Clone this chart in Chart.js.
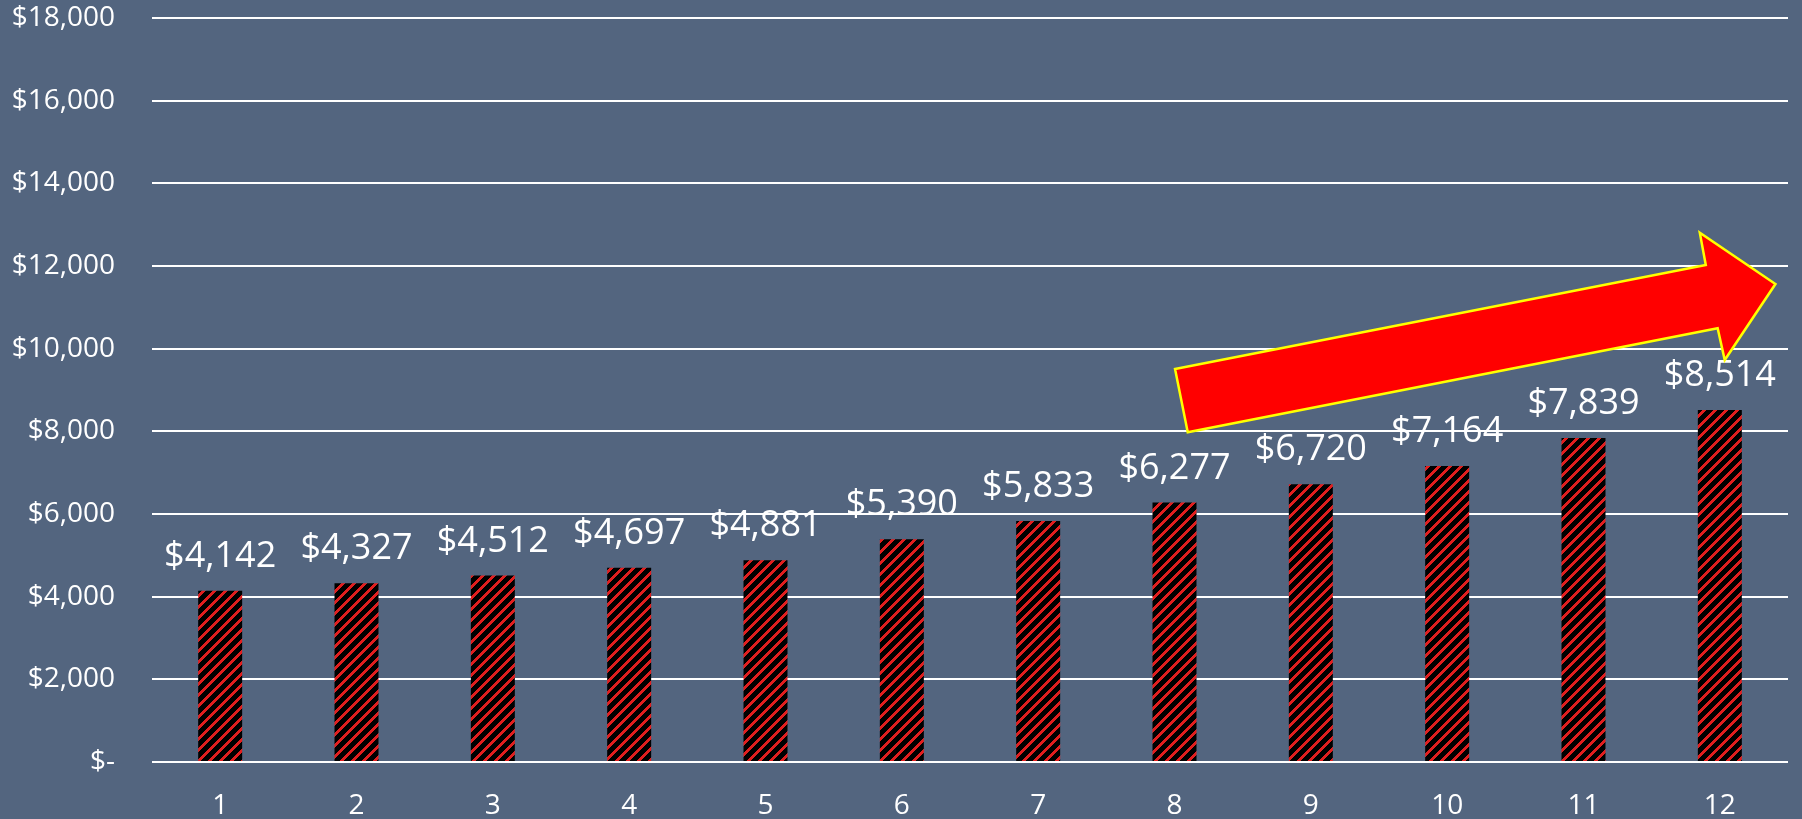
<!DOCTYPE html>
<html>
<head>
<meta charset="utf-8">
<script src="https://cdn.jsdelivr.net/npm/chart.js@4.4.0/dist/chart.umd.min.js"></script>
<style>
    html, body { margin: 0; padding: 0; background: #53657f; }
    canvas { display: block; }
</style>
</head>
<body>
<canvas id="chart" width="1802" height="819"></canvas>
<script>
// Données du graphique
const categories = ['1', '2', '3', '4', '5', '6', '7', '8', '9', '10', '11', '12'];
const amounts = [4142, 4327, 4512, 4697, 4881, 5390, 5833, 6277, 6720, 7164, 7839, 8514];
const yTickLabels = ['$-', '$2,000', '$4,000', '$6,000', '$8,000', '$10,000', '$12,000', '$14,000', '$16,000', '$18,000'];

// Flèche de tendance, en unités du graphique [index catégorie, valeur]
const arrowPoints = [
    [7.004, 9508],   // queue, haut
    [10.897, 12023], // corps haut, base de la pointe
    [10.853, 12805], // pointe, coin haut
    [11.408, 11564], // extrémité
    [11.036, 9725],  // pointe, coin bas
    [10.984, 10493], // corps bas, base de la pointe
    [7.097, 7976]    // queue, bas
];

const BG = '#53657f';
const FONT = '"Open Sans", "Noto Sans", sans-serif';

// Motif hachuré rouge / noir (diagonale montante)
function makeStripes() {
    const n = 11;
    const c = document.createElement('canvas');
    c.width = n;
    c.height = n;
    const g = c.getContext('2d');
    g.fillStyle = '#000000';
    g.fillRect(0, 0, n, n);
    g.fillStyle = '#e01e1e';
    for (let x = 0; x < n; x++) {
        for (let y = 0; y < n; y++) {
            if ((x + y) % n < 4) g.fillRect(x, y, 1, 1);
        }
    }
    return document.getElementById('chart').getContext('2d').createPattern(c, 'repeat');
}

const formatMoney = v => '$' + v.toLocaleString('en-US');

const backgroundPlugin = {
    id: 'bg',
    beforeDraw(chart) {
        const ctx = chart.ctx;
        ctx.save();
        ctx.fillStyle = BG;
        ctx.fillRect(0, 0, chart.width, chart.height);
        ctx.restore();
    }
};

// Étiquettes de valeur au-dessus des barres
const valueLabels = {
    id: 'valueLabels',
    afterDatasetsDraw(chart) {
        const ctx = chart.ctx;
        const meta = chart.getDatasetMeta(0);
        ctx.save();
        ctx.fillStyle = '#ffffff';
        ctx.font = '36px ' + FONT;
        ctx.textAlign = 'center';
        ctx.textBaseline = 'alphabetic';
        meta.data.forEach((bar, i) => {
            ctx.fillText(formatMoney(amounts[i]), bar.x, bar.y - 24);
        });
        ctx.restore();
    }
};

// Grosse flèche rouge
const trendArrow = {
    id: 'trendArrow',
    afterDraw(chart) {
        const x = chart.scales.x;
        const y = chart.scales.y;
        const ctx = chart.ctx;
        ctx.save();
        ctx.beginPath();
        arrowPoints.forEach((p, i) => {
            const px = x.getPixelForValue(p[0]);
            const py = y.getPixelForValue(p[1]);
            if (i === 0) ctx.moveTo(px, py);
            else ctx.lineTo(px, py);
        });
        ctx.closePath();
        ctx.fillStyle = '#ff0000';
        ctx.fill();
        ctx.lineWidth = 2.5;
        ctx.lineJoin = 'miter';
        ctx.strokeStyle = '#ffff00';
        ctx.stroke();
        ctx.restore();
    }
};

new Chart(document.getElementById('chart'), {
    type: 'bar',
    data: {
        labels: categories,
        datasets: [{
            data: amounts,
            backgroundColor: makeStripes(),
            borderWidth: 0,
            barPercentage: 1,
            categoryPercentage: 0.3226
        }]
    },
    options: {
        responsive: false,
        animation: false,
        devicePixelRatio: 1,
        layout: {
            padding: { top: 18, right: 14, left: 0, bottom: 0 }
        },
        plugins: {
            legend: { display: false },
            tooltip: { enabled: false }
        },
        scales: {
            x: {
                grid: { display: false, drawTicks: false },
                border: { display: false },
                ticks: {
                    color: '#ffffff',
                    font: { family: FONT, size: 28 },
                    padding: 27,
                    maxRotation: 0
                },
                afterFit(scale) {
                    scale.height = 57;
                    scale.paddingLeft = 0;
                    scale.paddingRight = 0;
                }
            },
            y: {
                min: 0,
                max: 18000,
                grid: { color: '#ffffff', lineWidth: 2, drawTicks: false },
                border: { display: false },
                ticks: {
                    stepSize: 2000,
                    color: '#ffffff',
                    font: { family: FONT, size: 28 },
                    padding: 37,
                    callback: (value, index) => yTickLabels[index]
                },
                afterFit(scale) {
                    scale.width = 152;
                    scale.paddingTop = 0;
                    scale.paddingBottom = 0;
                }
            }
        }
    },
    plugins: [backgroundPlugin, valueLabels, trendArrow]
});
</script>
</body>
</html>
